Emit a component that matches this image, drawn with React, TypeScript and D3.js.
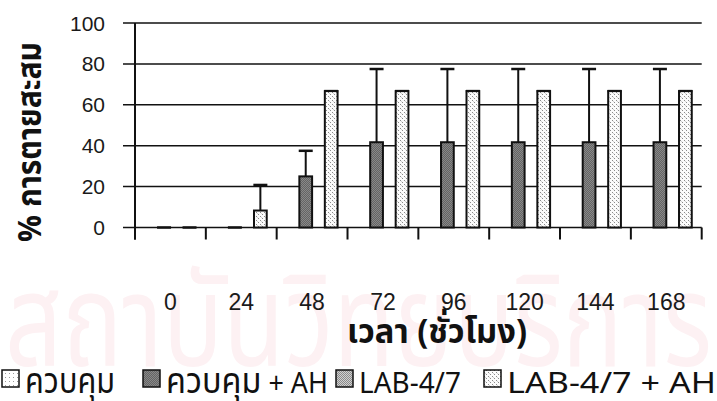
import React from "react";
import * as d3 from "d3";

// Cumulative mortality (%) over time, four treatment groups
const hours = ["0", "24", "48", "72", "96", "120", "144", "168"];
const seriesNames = ["ควบคุม", "ควบคุม + AH", "LAB-4/7", "LAB-4/7 + AH"];
const controlMean: (number | null)[] = [null, null, null, null, null, null, null, null];
const controlAhMean: (number | null)[] = [0, 0, 25, 41.7, 41.7, 41.7, 41.7, 41.7];
const controlAhUpper: (number | null)[] = [0, 0, 37.5, 77.5, 77.5, 77.5, 77.5, 77.5];
const labMean: (number | null)[] = [null, null, null, null, null, null, null, null];
const labAhMean: (number | null)[] = [0, 8.3, 66.7, 66.7, 66.7, 66.7, 66.7, 66.7];
const labAhUpper: (number | null)[] = [0, 20.8, 66.7, 66.7, 66.7, 66.7, 66.7, 66.7];
const yTicks = [0, 20, 40, 60, 80, 100];

const W = 717;
const H = 401;
const plotLeft = 135;
const plotRight = 701.7;
const plotTop = 23;
const plotBottom = 227.5;

const THAI = "'Noto Sans Thai', 'Noto Sans Thai UI', Tahoma, 'Loma', 'Garuda', 'DejaVu Sans', sans-serif";
const NUM = "'Liberation Sans', Arial, sans-serif";

const fills = ["url(#sparse)", "url(#checker)", "url(#dense)", "url(#dots)"];
const legendX = [2, 143, 336, 484];
const legendTextW = [90, 162, 102, 209];

// Thai runs get a larger size so they sit at the same visual height as Latin text
function Mixed({ text, latin, thai }: { text: string; latin: number; thai: number }) {
  const parts = text.split(/([\u0E00-\u0E7F]+)/).filter((p) => p.length > 0);
  return (
    <>
      {parts.map((p, i) => (
        <tspan key={i} fontSize={/[\u0E00-\u0E7F]/.test(p) ? thai : latin}>
          {p}
        </tspan>
      ))}
    </>
  );
}

export default function App() {
  const x = d3.scaleBand<string>().domain(hours).range([plotLeft, plotRight]).paddingInner(0).paddingOuter(0);
  const xs = d3
    .scaleBand<number>()
    .domain([0, 1, 2, 3])
    .range([0, x.bandwidth()])
    .paddingInner(0)
    .paddingOuter(0.78);
  const y = d3.scaleLinear().domain([0, 100]).range([plotBottom, plotTop]);

  const series = [
    { mean: controlMean, upper: controlMean },
    { mean: controlAhMean, upper: controlAhUpper },
    { mean: labMean, upper: labMean },
    { mean: labAhMean, upper: labAhUpper },
  ];
  const bw = xs.bandwidth();
  const boundaries = [...hours.map((h) => x(h)!), plotRight];

  return (
    <svg width={W} height={H} style={{ position: "absolute", left: 0, top: 0, background: "#fff" }}>
      <defs>
        <pattern id="sparse" width="4" height="4" patternUnits="userSpaceOnUse">
          <rect width="4" height="4" fill="#fff" />
          <rect x="1" y="1" width="1" height="1" fill="#9a9a9a" />
        </pattern>
        <pattern id="checker" width="2" height="2" patternUnits="userSpaceOnUse">
          <rect width="2" height="2" fill="#646464" />
          <rect x="0" y="0" width="1" height="1" fill="#888" />
          <rect x="1" y="1" width="1" height="1" fill="#888" />
        </pattern>
        <pattern id="dense" width="2" height="2" patternUnits="userSpaceOnUse">
          <rect width="2" height="2" fill="#d0d0d0" />
          <rect x="0" y="0" width="1" height="1" fill="#8a8a8a" />
          <rect x="1" y="1" width="1" height="1" fill="#8a8a8a" />
        </pattern>
        <pattern id="dots" width="4" height="4" patternUnits="userSpaceOnUse">
          <rect width="4" height="4" fill="#fbfbfb" />
          <rect x="0" y="0" width="1" height="1" fill="#8a8a8a" />
          <rect x="2" y="2" width="1" height="1" fill="#8a8a8a" />
          <rect x="1" y="1" width="1" height="1" fill="#d2d2d2" />
        </pattern>
      </defs>

      {/* library watermark */}
      <text
        x={W / 2}
        y={366}
        textAnchor="middle"
        fontFamily={THAI}
        fontSize={128}
        fill="#fdf1f3"
        textLength={W - 10}
        lengthAdjust="spacingAndGlyphs"
      >
        สถาบันวิทยบริการ
      </text>

      {/* gridlines with left tick marks */}
      {yTicks.map((t) => (
        <line key={t} x1={123} x2={plotRight} y1={y(t)} y2={y(t)} stroke="#111" strokeWidth={1.5} />
      ))}
      {/* y-axis line */}
      <line x1={plotLeft} x2={plotLeft} y1={plotTop} y2={plotBottom + 12} stroke="#111" strokeWidth={2} />
      {/* category separators below the axis */}
      {boundaries.map((bx, i) => (
        <line key={i} x1={bx} x2={bx} y1={plotBottom} y2={plotBottom + 12} stroke="#111" strokeWidth={2} />
      ))}

      {/* y tick labels */}
      {yTicks.map((t) => (
        <text key={t} x={105} y={y(t) + 7.5} textAnchor="end" fontFamily={NUM} fontSize={21} fill="#1a1a1a">
          {t}
        </text>
      ))}

      {/* bars and upper error bars */}
      {series.map((s, si) =>
        hours.map((h, i) => {
          const v = s.mean[i];
          if (v === null) return null;
          const bx = x(h)! + xs(si)!;
          const cx = bx + bw / 2;
          const up = s.upper[i] ?? v;
          return (
            <g key={`${si}-${h}`}>
              {up > v && <line x1={cx} x2={cx} y1={y(up)} y2={y(v)} stroke="#111" strokeWidth={2} />}
              <line x1={cx - 7} x2={cx + 7} y1={y(up)} y2={y(up)} stroke="#111" strokeWidth={2.5} />
              <rect
                x={bx}
                y={y(v)}
                width={bw}
                height={y(0) - y(v)}
                fill={fills[si]}
                stroke="#111"
                strokeWidth={2}
              />
            </g>
          );
        })
      )}

      {/* x tick labels */}
      {hours.map((h) => (
        <text key={h} x={x(h)! + x.bandwidth() / 2} y={310} textAnchor="middle" fontFamily={NUM} fontSize={23} fill="#1a1a1a">
          {h}
        </text>
      ))}

      {/* axis titles */}
      <text
        x={437}
        y={343}
        textAnchor="middle"
        fontFamily={THAI}
        fontWeight="bold"
        fontSize={34}
        textLength={180}
        lengthAdjust="spacingAndGlyphs"
        fill="#111"
      >
        เวลา (ชั่วโมง)
      </text>
      <text
        transform={`translate(41, 142) rotate(-90)`}
        textAnchor="middle"
        fontFamily={THAI}
        fontWeight="bold"
        fontSize={33}
        textLength={200}
        lengthAdjust="spacingAndGlyphs"
        fill="#111"
      >
        % การตายสะสม
      </text>

      {/* legend */}
      {seriesNames.map((n, i) => (
        <g key={n}>
          <rect x={legendX[i]} y={370} width={17} height={17} fill={fills[i]} stroke="#111" strokeWidth={1.5} />
          <text
            x={legendX[i] + 23}
            y={393}
            fontFamily={THAI}
            fill="#111"
            textLength={legendTextW[i]}
            lengthAdjust="spacingAndGlyphs"
          >
            <Mixed text={n} latin={29} thai={35} />
          </text>
        </g>
      ))}
    </svg>
  );
}
